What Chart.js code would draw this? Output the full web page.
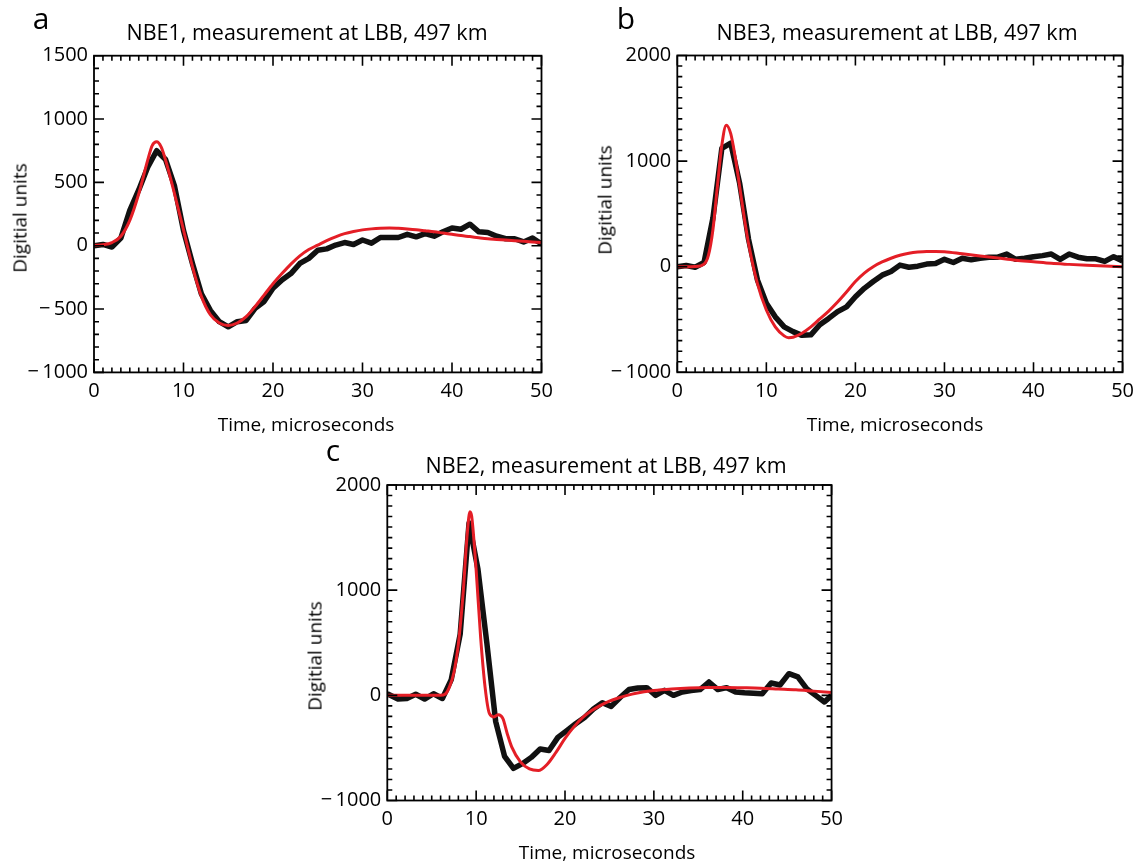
<!DOCTYPE html>
<html>
<head>
<meta charset="utf-8">
<script src="https://cdn.jsdelivr.net/npm/chart.js@4.4.0/dist/chart.umd.min.js"></script>
<style>
  html, body { margin: 0; padding: 0; background: #fff; }
  #page { position: relative; width: 1141px; height: 865px; overflow: hidden; font-family: "Open Sans", sans-serif; color: #000; }
  canvas { position: absolute; }
  .txt { position: absolute; white-space: nowrap; line-height: 1; transform: translate(-50%, -50%); }
  .title { font-size: 21.5px; }
  .axis { font-size: 19px; }
  .ytitle { transform: translate(-50%, -50%) rotate(-90deg); }
  .letter { font-size: 30px; }
</style>
</head>
<body>
<div id="page">
  <canvas id="chartA" width="560" height="420" style="left:0px;top:0px"></canvas>
  <canvas id="chartB" width="561" height="420" style="left:580px;top:0px"></canvas>
  <canvas id="chartC" width="560" height="420" style="left:290px;top:430px"></canvas>

  <div class="txt letter" style="left:41px;top:18px">a</div>
  <div class="txt title" style="left:307px;top:32px">NBE1, measurement at LBB, 497 km</div>
  <div class="txt axis" style="left:306px;top:424px">Time, microseconds</div>
  <div class="txt axis ytitle" style="left:20px;top:218px">Digitial units</div>

  <div class="txt letter" style="left:626px;top:18px">b</div>
  <div class="txt title" style="left:897px;top:32px">NBE3, measurement at LBB, 497 km</div>
  <div class="txt axis" style="left:895px;top:424px">Time, microseconds</div>
  <div class="txt axis ytitle" style="left:605px;top:200px">Digitial units</div>

  <div class="txt letter" style="left:333px;top:450px">c</div>
  <div class="txt title" style="left:606px;top:465px">NBE2, measurement at LBB, 497 km</div>
  <div class="txt axis" style="left:607px;top:852px">Time, microseconds</div>
  <div class="txt axis ytitle" style="left:315px;top:656px">Digitial units</div>
</div>

<script>
// sample times of the measured waveforms, microseconds
const sampleTimes = [0, 1, 2, 3, 4, 5, 6, 7, 8, 9, 10, 11, 12, 13, 14, 15, 16, 17, 18, 19, 20,
  21, 22, 23, 24, 25, 26, 27, 28, 29, 30, 31, 32, 33, 34, 35, 36, 37, 38, 39, 40,
  41, 42, 43, 44, 45, 46, 47, 48, 49, 50];
// NBE2 record is sampled with a small offset
const sampleTimesNBE2 = [0, 1.2, 2.2, 3.2, 4.2, 5.2, 6.2, 7.2, 8.2, 9.2, 10.2,
  11.2, 12.2, 13.2, 14.2, 15.2, 16.2, 17.2, 18.2, 19.2, 20.2,
  21.2, 22.2, 23.2, 24.2, 25.2, 26.2, 27.2, 28.2, 29.2, 30.2,
  31.2, 32.2, 33.2, 34.2, 35.2, 36.2, 37.2, 38.2, 39.2, 40.2,
  41.2, 42.2, 43.2, 44.2, 45.2, 46.2, 47.2, 48.2, 49.2, 50];

// NBE1 measured
const measuredNBE1 = [0, 10, -10, 60, 280, 440, 620, 750, 680, 470, 120,
  -140, -380, -510, -600, -640, -600, -590, -495, -440, -335,
  -270, -220, -140, -100, -35, -25, 5, 25, 10, 45,
  20, 65, 65, 65, 90, 70, 95, 75, 110, 140,
  130, 170, 110, 105, 75, 55, 55, 30, 60, 15];

// NBE3 measured
const measuredNBE3 = [0, 12, -5, 40, 460, 1120, 1170, 790, 260, -125, -345,
  -475, -570, -615, -650, -645, -550, -490, -425, -380, -285,
  -205, -140, -80, -45, 15, -5, 5, 25, 30, 70,
  40, 80, 65, 80, 90, 90, 120, 70, 80, 95,
  105, 120, 70, 120, 90, 75, 75, 50, 95, 55];

// NBE2 measured
const measuredNBE2 = [15, -35, -30, 10, -35, 15, -30, 150, 580, 1640, 1200,
  500, -250, -580, -695, -650, -590, -510, -525, -400, -335,
  -270, -210, -130, -70, -105, -20, 55, 70, 73, 0,
  48, 0, 32, 45, 55, 127, 55, 73, 32, 25,
  20, 16, 117, 98, 206, 175, 63, 0, -63, 0];

// model fits
const modelTimeNBE1 = [0, 1, 2, 3, 4, 5, 6, 6.5, 7, 7.5, 8, 9, 10, 11, 12, 13, 14, 15, 16, 17, 18, 19, 20,
  21, 22, 23, 24, 25, 26, 27, 28, 29, 30, 31, 32, 33, 34, 35, 36, 37, 38, 39, 40,
  41, 42, 43, 44, 45, 46, 47, 48, 49, 50];
const modelNBE1 = [3, 8, 25, 75, 200, 410, 675, 790, 820, 780, 675, 410, 125, -165, -400, -545, -610, -630, -610, -560, -480, -390, -300,
  -220, -145, -80, -30, 5, 40, 70, 95, 112, 125, 133, 138, 140, 137, 132, 126, 118, 110, 100, 90,
  80, 72, 63, 55, 50, 45, 40, 35, 30, 25];

const modelTimeNBE3 = [0, 1, 2, 3, 3.5, 4, 4.5, 5, 5.5, 6, 6.5, 7, 7.5, 8, 9, 10, 11, 12, 12.5, 13, 14, 15, 16, 17, 18, 19, 20,
  21, 22, 23, 24, 25, 26, 27, 28, 29, 30, 32, 34, 36, 38, 40, 42, 44, 46, 48, 50];
const modelNBE3 = [0, 0, 2, 25, 110, 350, 760, 1150, 1340, 1260, 1040, 760, 475, 220, -160, -410, -570, -655, -672, -668, -630, -570, -495, -420, -335, -240, -140,
  -60, 0, 45, 80, 108, 127, 139, 145, 145, 142, 122, 102, 82, 62, 47, 32, 22, 13, 6, 0];

const modelTimeNBE2 = [0, 2, 4, 6, 6.5, 7, 7.5, 8, 8.5, 9, 9.3, 9.5, 10, 10.5, 11, 11.5, 12, 12.5, 13, 13.5, 14, 15, 16, 17, 18, 19, 20,
  21, 22, 23, 24, 25, 26, 27, 28, 30, 32, 34, 36, 38, 40, 42, 44, 46, 48, 50];
const modelNBE2 = [0, 0, 0, 0, 10, 80, 220, 490, 935, 1540, 1745, 1700, 1190, 555, 80, -175, -205, -185, -220, -365, -490, -635, -700, -715, -655, -540, -410,
  -300, -210, -145, -95, -55, -25, 0, 20, 45, 60, 70, 75, 75, 72, 68, 60, 52, 40, 28];

const xTicks = { min: 0, max: 50, major: 10, minor: 1 };
const yTicksNBE1 = { min: -1000, max: 1500, major: 500, minor: 100 };
const yTicksNBE23 = { min: -1000, max: 2000, major: 1000, minor: 100 };

const tickFont = { family: "'Open Sans', sans-serif", size: 20 };

const toPoints = (xs, ys) => xs.map((x, i) => ({ x: x, y: ys[i] }));

// frame with inward major/minor ticks on all four sides
const frameTicks = {
  id: 'frameTicks',
  afterDatasetsDraw(chart) {
    const { ctx, chartArea: a, scales: { x, y } } = chart;
    const xt = chart.options.plugins.frameTicks.x;
    const yt = chart.options.plugins.frameTicks.y;
    ctx.save();
    ctx.strokeStyle = '#000';
    ctx.lineWidth = 1.6;
    ctx.beginPath();
    const nx = Math.round((xt.max - xt.min) / xt.minor);
    for (let i = 0; i <= nx; i++) {
      const v = xt.min + i * xt.minor;
      const px = x.getPixelForValue(v);
      const len = v % xt.major === 0 ? 10 : 5;
      ctx.moveTo(px, a.bottom); ctx.lineTo(px, a.bottom - len);
      ctx.moveTo(px, a.top); ctx.lineTo(px, a.top + len);
    }
    const ny = Math.round((yt.max - yt.min) / yt.minor);
    for (let i = 0; i <= ny; i++) {
      const v = yt.min + i * yt.minor;
      const py = y.getPixelForValue(v);
      const len = v % yt.major === 0 ? 10 : 5;
      ctx.moveTo(a.left, py); ctx.lineTo(a.left + len, py);
      ctx.moveTo(a.right, py); ctx.lineTo(a.right - len, py);
    }
    ctx.stroke();
    ctx.lineWidth = 1.8;
    ctx.strokeRect(a.left, a.top, a.right - a.left, a.bottom - a.top);
    ctx.restore();
  }
};

function makePanel(id, times, measured, modelTime, model, yt, box) {
  new Chart(document.getElementById(id), {
    type: 'line',
    data: {
      datasets: [
        {
          data: toPoints(times, measured),
          borderColor: '#111',
          borderWidth: 5.5,
          borderJoinStyle: 'round',
          pointRadius: 0,
          tension: 0,
          order: 2
        },
        {
          data: toPoints(modelTime, model),
          borderColor: 'rgb(228, 30, 38)',
          borderWidth: 3,
          pointRadius: 0,
          cubicInterpolationMode: 'monotone',
          order: 1
        }
      ]
    },
    options: {
      responsive: false,
      animation: false,
      devicePixelRatio: 1,
      layout: { padding: { top: box.top, right: box.right, bottom: 0, left: 0 } },
      plugins: {
        legend: { display: false },
        tooltip: { enabled: false },
        frameTicks: { x: xTicks, y: yt }
      },
      scales: {
        x: {
          type: 'linear',
          min: xTicks.min,
          max: xTicks.max,
          grid: { display: false, drawTicks: false },
          border: { display: false },
          ticks: { stepSize: xTicks.major, padding: 7, maxRotation: 0, color: '#000', font: tickFont },
          afterFit(scale) { scale.height = box.xHeight; }
        },
        y: {
          type: 'linear',
          min: yt.min,
          max: yt.max,
          grid: { display: false, drawTicks: false },
          border: { display: false },
          ticks: {
            stepSize: yt.major,
            padding: 6,
            color: '#000',
            font: tickFont,
            callback: (v) => (v < 0 ? '\u2212\u2009' + Math.abs(v) : String(v))
          },
          afterFit(scale) { scale.width = box.yWidth; }
        }
      }
    },
    plugins: [frameTicks]
  });
}

makePanel('chartA', sampleTimes, measuredNBE1, modelTimeNBE1, modelNBE1, yTicksNBE1,
  { top: 55.7, right: 18.5, yWidth: 94, xHeight: 47.6 });
makePanel('chartB', sampleTimes, measuredNBE3, modelTimeNBE3, modelNBE3, yTicksNBE23,
  { top: 55.5, right: 16, yWidth: 97.3, xHeight: 47.7 });
makePanel('chartC', sampleTimesNBE2, measuredNBE2, modelTimeNBE2, modelNBE2, yTicksNBE23,
  { top: 55, right: 15.8, yWidth: 97.3, xHeight: 49.5 });
</script>
</body>
</html>
